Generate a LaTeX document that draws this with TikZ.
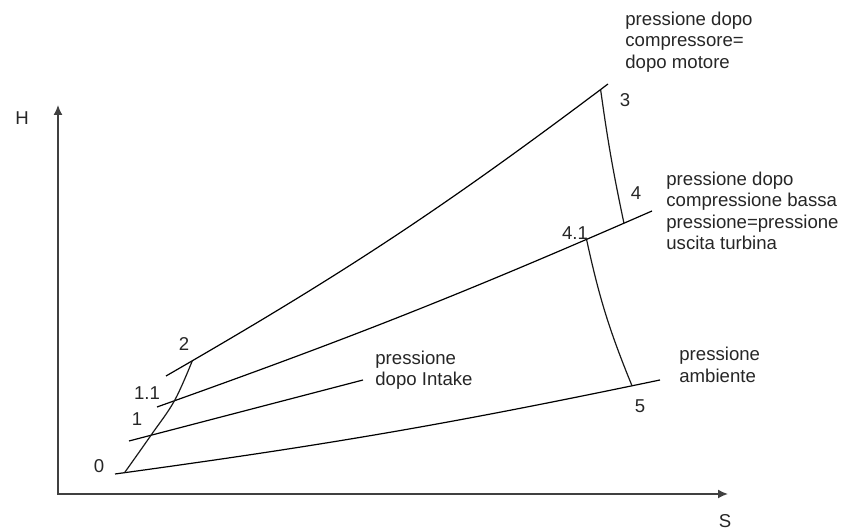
\documentclass[tikz,border=0pt]{standalone}
\usepackage{fontspec}
\setmainfont{Liberation Sans}
\usetikzlibrary{arrows.meta,positioning}

\begin{document}
\begin{tikzpicture}[x=0.5pt, y=0.5pt, font=\fontsize{9.3}{10.75}\selectfont,
  axis/.style={draw=black!75, line width=0.8pt},
  isobar/.style={draw=black, line width=0.6pt},
  trans/.style={draw=black!90, line width=0.6pt},
  num/.style={inner sep=0pt, text=black!85},
  note/.style={inner sep=0pt, anchor=west, align=left, text=black!85}]
  \useasboundingbox (0,0) rectangle (842,529);
  \coordinate (origin) at (58,35);
  \coordinate (ytop) at (58,424);
  \coordinate (xend) at (728,35);
  \draw[axis, {Latex[length=5pt,width=4.5pt]}-{Latex[length=5pt,width=4.5pt]}] (ytop) -- (origin) -- (xend);
  \node[num] (hlab) at (22,411) {H};
  \node[num] (slab) at (725,8) {S};
  \coordinate (amb0) at (115,55);   \coordinate (amb1) at (660,149);
  \coordinate (int0) at (129,88);   \coordinate (int1) at (363,149);
  \coordinate (low0) at (157,122);  \coordinate (low1) at (652,318);
  \coordinate (high0) at (166,153); \coordinate (high1) at (608,445);
  \draw[isobar] (amb0) to[bend right=2] coordinate[pos=.015] (p0) coordinate[pos=.955] (p5) (amb1);
  \draw[isobar] (int0) -- coordinate[pos=.094] (p1) (int1);
  \draw[isobar] (low0) to[bend right=2] coordinate[pos=.03] (p11) coordinate[pos=.88] (p41) coordinate[pos=.95] (p4) (low1);
  \draw[isobar] (high0) to[bend right=3.5] coordinate[pos=.05] (p2) coordinate[pos=.985] (p3) (high1);
  \draw[trans] plot[smooth, tension=.6] coordinates {(p0) (p1) (p11) (p2)};
  \draw[trans] (p3) to[bend right=2] (p4);
  \draw[trans] (p41) to[bend right=5] (p5);
  \node[num] (n0) at (99,63) {0};
  \node[num] (n1) at (137,110) {1};
  \node[num] (n11) at (147,136) {1.1};
  \node[num] (n2) at (184,185) {2};
  \node[num] (n3) at (625,429) {3};
  \node[num] (n4) at (636,336) {4};
  \node[num] (n41) at (575,296) {4.1};
  \node[num] (n5) at (640,123) {5};
  \node[note] (tcomp) at (625,487) {pressione dopo\\compressore=\\dopo motore};
  \node[note] (tbassa) at (666,318) {pressione dopo\\compressione bassa\\pressione=pressione\\uscita turbina};
  \node[note] (tintake) at (375,159) {pressione\\dopo Intake};
  \node[note] (tamb) at (679,164) {pressione\\ambiente};
\end{tikzpicture}
\end{document}
